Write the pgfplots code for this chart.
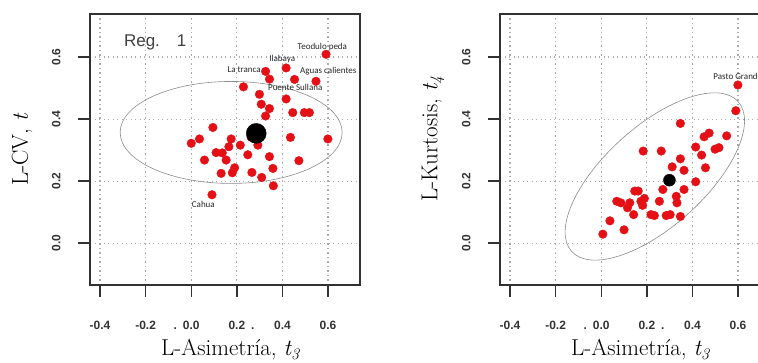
\documentclass[border=0pt]{standalone}
\usepackage{fontspec}
\usepackage{pgfplots}
\usepackage{pgfplotstable}
\pgfplotsset{compat=1.18}
\newfontfamily\lsans{Liberation Sans}
\newfontfamily\calib{Carlito}
\definecolor{ptred}{RGB}{228,16,22}
\definecolor{framec}{RGB}{50,50,50}

\pgfplotstableread{
x y
0.591 0.609
0.416 0.565
0.326 0.554
0.453 0.528
0.547 0.522
0.343 0.529
0.229 0.504
0.416 0.465
0.299 0.480
0.307 0.448
0.343 0.434
0.326 0.410
0.445 0.421
0.496 0.421
0.518 0.421
0.095 0.373
0.435 0.341
0.599 0.336
0.036 0.336
0.000 0.322
0.175 0.336
0.263 0.341
0.292 0.316
0.215 0.316
0.165 0.311
0.109 0.292
0.136 0.291
0.248 0.285
0.343 0.279
0.058 0.268
0.153 0.268
0.472 0.266
0.358 0.241
0.190 0.243
0.131 0.225
0.180 0.227
0.266 0.228
0.309 0.212
0.360 0.185
0.091 0.156
}\lcv

\pgfplotstableread{
x y
0.599 0.510
0.590 0.427
0.347 0.386
0.550 0.346
0.473 0.355
0.451 0.343
0.516 0.308
0.499 0.303
0.414 0.310
0.440 0.284
0.184 0.297
0.263 0.297
0.347 0.272
0.311 0.246
0.363 0.235
0.457 0.243
0.414 0.198
0.270 0.173
0.363 0.173
0.147 0.168
0.162 0.168
0.189 0.144
0.329 0.151
0.332 0.130
0.255 0.135
0.068 0.135
0.086 0.130
0.125 0.130
0.174 0.135
0.181 0.122
0.115 0.114
0.142 0.092
0.218 0.092
0.233 0.089
0.285 0.089
0.302 0.092
0.347 0.086
0.038 0.072
0.100 0.043
0.007 0.029
}\lkur

\tikzset{ptlab/.style={font=\calib\fontsize{9}{9}\selectfont, text=black!85, inner sep=0pt}}

\pgfplotsset{
  rstyle/.style={
    width=270pt, height=271pt, scale only axis,
    xmin=-0.444, xmax=0.74, ymin=-0.135, ymax=0.739,
    xtick={-0.4,-0.2,0,0.2,0.4,0.6},
    xticklabels={-0.4,-0.2,{\llap{.\hspace{6pt}}0.0},{0.2\rlap{\hspace{6pt}.}},0.4,0.6},
    ytick={0,0.2,0.4,0.6},
    yticklabels={0.0,0.2,0.4,0.6},
    /pgf/number format/assume math mode=true,
    axis line style={draw=framec, line width=1.5pt},
    tick style={draw=framec, line width=1.5pt},
    major tick length=12pt, tick align=outside,
    xtick pos=bottom, ytick pos=left,
    grid=major,
    major grid style={draw=black!32, line width=1.2pt, dash pattern=on 1.3pt off 3.2pt},
    ticklabel style={font=\lsans\bfseries\fontsize{12}{12}\selectfont, text=black!80},
    xticklabel shift=21pt,
    yticklabel style={rotate=90, anchor=south},
    yticklabel shift=14pt,
    every axis x label/.style={at={(axis description cs:0.52,-0.24)}, anchor=center, font=\fontsize{23}{23}\selectfont},
    every axis y label/.style={at={(axis description cs:-0.252,0.5)}, anchor=center, rotate=90, font=\fontsize{23}{23}\selectfont},
    clip=false,
  },
}

\begin{document}
\begin{tikzpicture}
\useasboundingbox (0,0) rectangle (758pt,362pt);
\clip (0,0) rectangle (758pt,362pt);

\begin{axis}[rstyle, at={(90pt,77pt)}, anchor=south west,
  xlabel={L-Asimetría, \textit{t\textsubscript{3}}},
  ylabel={L-CV, \textit{t}}]
  \draw[black!45, line width=0.6pt] (axis cs:0.175,0.357) ellipse [x radius=111pt, y radius=51pt];
  \addplot[only marks, mark=*, mark size=4.3pt, color=ptred, mark options={draw=ptred, fill=ptred}] table[x=x,y=y] {\lcv};
  \addplot[only marks, mark=*, mark size=10pt, color=black, mark options={fill=black}] coordinates {(0.285,0.354)};
  \node[ptlab] at (axis cs:0.575,0.632) {Teodulo peda};
  \node[ptlab] at (axis cs:0.399,0.594) {Ilabaya};
  \node[ptlab] at (axis cs:0.232,0.558) {La tranca};
  \node[ptlab] at (axis cs:0.601,0.555) {Aguas calientes};
  \node[ptlab] at (axis cs:0.456,0.503) {Puente Sullana};
  \node[ptlab] at (axis cs:0.053,0.126) {Cahua};
  \node[font=\lsans\fontsize{17}{17}\selectfont, text=black!75] at (axis cs:-0.158,0.648) {Reg.\hspace{17pt}1};
\end{axis}

\begin{axis}[rstyle, at={(500pt,77pt)}, anchor=south west,
  xlabel={L-Asimetría, \textit{t\textsubscript{3}}},
  ylabel={L-Kurtosis, \textit{t\textsubscript{4}}},
  every axis y label/.append style={at={(axis description cs:-0.248,0.54)}}]
  \draw[black!45, line width=0.6pt] (axis cs:0.235,0.215) ellipse [x radius=112pt, y radius=50pt, rotate=42];
  \addplot[only marks, mark=*, mark size=4.3pt, color=ptred, mark options={draw=ptred, fill=ptred}] table[x=x,y=y] {\lkur};
  \addplot[only marks, mark=*, mark size=6pt, color=black, mark options={fill=black}] coordinates {(0.299,0.203)};
  \node[ptlab, anchor=west] at (axis cs:0.491,0.539) {Pasto Grande};
\end{axis}
\end{tikzpicture}
\end{document}
